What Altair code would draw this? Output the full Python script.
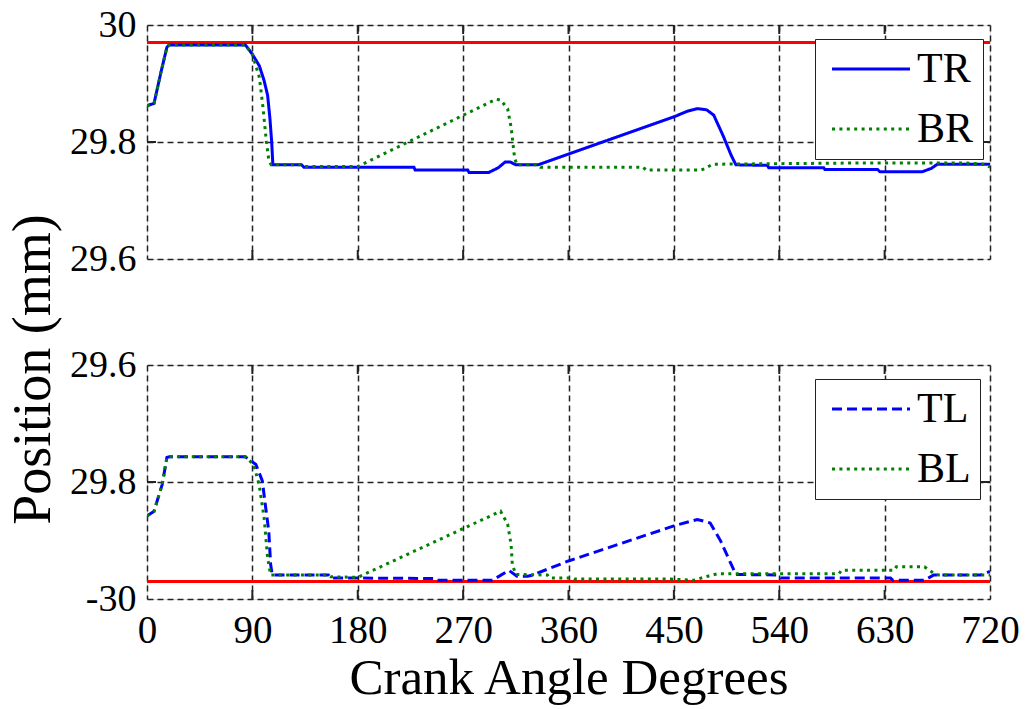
import altair as alt
import pandas as pd

# ---- data -----------------------------------------------------------------
# Right side (top panel): position in mm vs crank angle
tr_angle = [0, 6, 12, 17, 19, 84, 90, 96, 100, 103, 105, 106.5, 107.5, 132, 134,
            228, 229, 274, 275, 292, 300, 306, 310, 315, 334, 450, 462, 470, 478,
            484, 492, 499, 503, 530, 531, 578, 579, 624, 626, 662, 670, 675, 720]
tr_pos = [29.862, 29.866, 29.92, 29.962, 29.966, 29.966, 29.95, 29.93, 29.905, 29.88,
          29.84, 29.80, 29.761, 29.761, 29.757, 29.757, 29.752, 29.752, 29.748,
          29.748, 29.756, 29.766, 29.766, 29.761, 29.761, 29.843, 29.853, 29.857,
          29.855, 29.846, 29.811, 29.777, 29.761, 29.760, 29.756, 29.756, 29.753,
          29.753, 29.749, 29.749, 29.755, 29.762, 29.762]

br_angle = [0, 6, 12, 17, 19, 84, 90, 96, 99, 102, 104, 106, 132, 134, 180, 298,
            302, 308, 311, 314, 316, 334, 336, 424, 426, 473, 476, 483, 540, 600,
            700, 715, 720]
br_pos = [29.862, 29.866, 29.92, 29.962, 29.966, 29.966, 29.95, 29.91, 29.86, 29.80,
          29.77, 29.761, 29.761, 29.758, 29.758, 29.873, 29.872, 29.857, 29.825,
          29.772, 29.761, 29.761, 29.757, 29.757, 29.752, 29.752, 29.754, 29.762,
          29.763, 29.764, 29.764, 29.762, 29.757]

# Left side (bottom panel)
tl_angle = [0, 6, 13, 17, 19, 84, 93, 98.5, 101, 104, 105.6, 107, 155, 157, 246,
            248, 295, 309, 316, 325, 328, 360, 450, 470, 481, 490, 499, 503, 539,
            541, 635, 637, 664, 672, 712, 720]
tl_pos = [-29.858, -29.850, -29.804, -29.758, -29.757, -29.757, -29.770, -29.798,
          -29.838, -29.884, -29.941, -29.959, -29.959, -29.964, -29.965, -29.968,
          -29.968, -29.951, -29.961, -29.961, -29.960, -29.935, -29.875, -29.864,
          -29.870, -29.901, -29.941, -29.958, -29.959, -29.964, -29.964, -29.968,
          -29.968, -29.959, -29.959, -29.953]

bl_angle = [0, 6, 13, 17, 19, 84, 91, 95.7, 100, 103, 105.6, 155, 157, 180, 302,
            308, 311, 312, 315, 342, 344, 363, 365, 447, 467, 479, 487, 591, 593,
            638, 640, 664, 672, 676, 720]
bl_pos = [-29.858, -29.850, -29.804, -29.758, -29.757, -29.757, -29.770, -29.804,
          -29.861, -29.929, -29.959, -29.959, -29.962, -29.963, -29.850, -29.872,
          -29.907, -29.941, -29.958, -29.959, -29.964, -29.964, -29.966, -29.966,
          -29.968, -29.961, -29.957, -29.957, -29.951, -29.951, -29.945, -29.945,
          -29.956, -29.959, -29.959]

limit_top = [29.97]
limit_bottom = [-29.97]

angle_ticks = [0, 90, 180, 270, 360, 450, 540, 630, 720]
inner_angle_ticks = [90, 180, 270, 360, 450, 540, 630]
top_ticks = [29.6, 29.8, 30.0]
bottom_ticks = [-30.0, -29.8, -29.6]

W, H = 843, 234
SERIF = "Liberation Serif"
BLUE, GREEN, RED = "#0000ff", "#008000", "#ff0000"

# legend key: a long horizontal stroke starting at the symbol's left edge
LEGEND_KEY = "M-1,0H5"


def frame(angles, values, name):
    return pd.DataFrame({"angle": angles, "pos": values, "series": name})


def panel(lines, names, dashes, domain, mid_tick, limit, yaxis, xaxis):
    data = pd.concat(lines, ignore_index=True)
    legend = alt.Legend(
        title=None, orient="none", legendX=668, legendY=14,
        symbolType=LEGEND_KEY, symbolSize=676, symbolStrokeWidth=3,
        labelFont=SERIF, labelFontSize=42, labelOffset=51, labelColor="black",
        fillColor="white", strokeColor="#222", padding=9, rowPadding=18,
    )
    x = alt.X("angle:Q", scale=alt.Scale(domain=[0, 720], nice=False, zero=False),
              axis=xaxis)
    y = alt.Y("pos:Q", scale=alt.Scale(domain=domain, nice=False, zero=False),
              axis=yaxis)

    curves = alt.Chart(data).mark_line(strokeWidth=3, clip=True).encode(
        x=x, y=y,
        color=alt.Color("series:N", scale=alt.Scale(domain=names, range=[BLUE, GREEN]),
                        legend=legend),
        strokeDash=alt.StrokeDash("series:N", scale=alt.Scale(domain=names, range=dashes),
                                  legend=legend),
    )

    red = alt.Chart(pd.DataFrame({"pos": limit})).mark_rule(
        color=RED, strokeWidth=3).encode(
        y=alt.Y("pos:Q"), x=alt.value(0), x2=alt.value(W))

    tick_df = pd.DataFrame({"angle": inner_angle_ticks})
    xt_bottom = alt.Chart(tick_df).mark_rule(color="#222", strokeWidth=2).encode(
        x=alt.X("angle:Q"), y=alt.value(H), y2=alt.value(H - 9))
    xt_top = alt.Chart(tick_df).mark_rule(color="#222", strokeWidth=2).encode(
        x=alt.X("angle:Q"), y=alt.value(0), y2=alt.value(9))

    ytick_df = pd.DataFrame({"pos": [mid_tick]})
    yt_left = alt.Chart(ytick_df).mark_rule(color="#222", strokeWidth=2).encode(
        y=alt.Y("pos:Q"), x=alt.value(0), x2=alt.value(9))
    yt_right = alt.Chart(ytick_df).mark_rule(color="#222", strokeWidth=2).encode(
        y=alt.Y("pos:Q"), x=alt.value(W - 9), x2=alt.value(W))

    return alt.layer(xt_bottom, xt_top, yt_left, yt_right, red, curves).properties(
        width=W, height=H)


grid_common = dict(grid=True, gridColor="#222", gridDash=[6, 4], gridWidth=1.5,
                   ticks=False, tickSize=0, domain=False)

top_y_axis = alt.Axis(
    values=top_ticks, labelExpr="datum.value == 30 ? '30' : format(datum.value, '.1f')",
    labelFont=SERIF, labelFontSize=38, labelPadding=11, labelColor="black",
    title="Position (mm)", titleFont=SERIF, titleFontSize=54, titleFontWeight="normal",
    titleColor="black", titleAngle=270, titleX=-98, titleY=344,
    titleAlign="center", titleBaseline="alphabetic", **grid_common)
top_x_axis = alt.Axis(values=angle_ticks, labels=False, title=None, **grid_common)

bottom_y_axis = alt.Axis(
    values=bottom_ticks,
    labelExpr="datum.value <= -29.99 ? '-30' : format(-datum.value, '.1f')",
    labelFont=SERIF, labelFontSize=38, labelPadding=11, labelColor="black",
    title=None, **grid_common)
bottom_x_axis = alt.Axis(
    values=angle_ticks, format="d", labelFont=SERIF, labelFontSize=39,
    labelPadding=12, labelColor="black", labelFlush=False,
    title="Crank Angle Degrees", titleFont=SERIF, titleFontSize=51,
    titleFontWeight="normal", titleColor="black", titlePadding=3, **grid_common)

top = panel([frame(tr_angle, tr_pos, "TR"), frame(br_angle, br_pos, "BR")],
            ["TR", "BR"], [[1, 0], [3, 4.4]], [29.6, 30.0], 29.8,
            limit_top, top_y_axis, top_x_axis)
bottom = panel([frame(tl_angle, tl_pos, "TL"), frame(bl_angle, bl_pos, "BL")],
               ["TL", "BL"], [[10, 5], [3, 4.4]], [-30.0, -29.6], -29.8,
               limit_bottom, bottom_y_axis, bottom_x_axis)

chart = alt.vconcat(top, bottom, spacing=106, bounds="flush").resolve_scale(
    color="independent", strokeDash="independent", y="independent"
).resolve_legend(color="independent", strokeDash="independent").configure_view(
    stroke="#222", strokeWidth=2
).configure_legend(strokeWidth=2).configure(
    padding={"left": 5, "top": 5, "right": 5, "bottom": 5}
)

chart.save("out.html", embed_options={"renderer": "svg", "actions": False})
